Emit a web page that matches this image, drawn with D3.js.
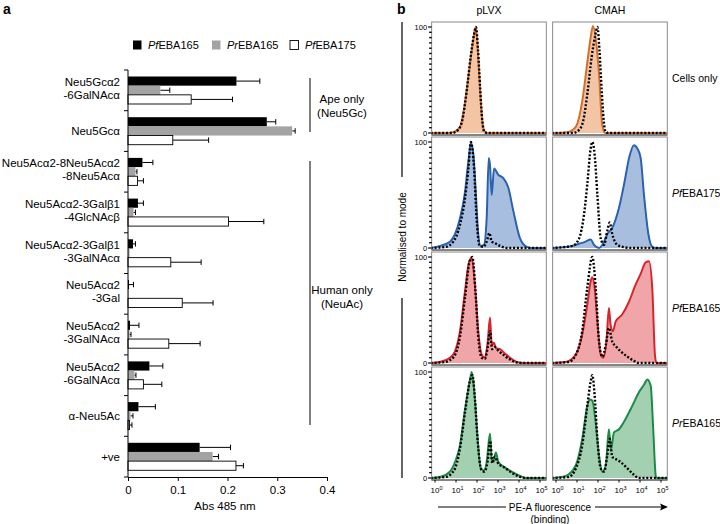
<!DOCTYPE html>
<html><head><meta charset="utf-8">
<script src="https://cdn.jsdelivr.net/npm/d3@7"></script>
<style>
body{margin:0;background:#fff;}
svg{display:block;font-family:"Liberation Sans",Arial,Helvetica,sans-serif;}
</style></head>
<body>
<svg id="c" width="720" height="524"></svg>
<script>
// ---------- Panel a data ----------
const categoryLines = [
  ["Neu5Gc\u03b12","-6GalNAc\u03b1"],
  ["Neu5Gc\u03b1"],
  ["Neu5Ac\u03b12-8Neu5Ac\u03b12","-8Neu5Ac\u03b1"],
  ["Neu5Ac\u03b12-3Gal\u03b21","-4GlcNAc\u03b2"],
  ["Neu5Ac\u03b12-3Gal\u03b21","-3GalNAc\u03b1"],
  ["Neu5Ac\u03b12","-3Gal"],
  ["Neu5Ac\u03b12","-3GalNAc\u03b1"],
  ["Neu5Ac\u03b12","-6GalNAc\u03b1"],
  ["\u03b1-Neu5Ac"],
  ["+ve"]
];
const seriesNames = ["PfEBA165","PrEBA165","PfEBA175"];
const valPfEBA165 = [0.218,0.279,0.029,0.020,0.010,0.002,0.004,0.043,0.021,0.144];
const errPfEBA165 = [0.047,0.018,0.021,0.011,0.005,0.009,0.018,0.027,0.034,0.062];
const valPrEBA165 = [0.065,0.330,0.015,0.011,0.003,0.001,0.003,0.013,0.005,0.170];
const errPrEBA165 = [0.019,0.006,0.003,0.004,0.000,0.000,0.003,0.003,0.005,0.012];
const valPfEBA175 = [0.127,0.090,0.019,0.202,0.086,0.109,0.082,0.031,0.003,0.217];
const errPfEBA175 = [0.083,0.072,0.012,0.071,0.061,0.062,0.063,0.037,0.005,0.015];
const xTicksA = [0,0.1,0.2,0.3,0.4];

// ---------- Panel b data: [log10 fluorescence, % of mode] ----------
const colTitles = ["pLVX","CMAH"];
const rowLabels = [["","Cells only"],["Pf","EBA175"],["Pf","EBA165"],["Pr","EBA165"]];
const cellsPLVX = [[-0.2,0],[0.5,0],[0.8,0.5],[1.0,2],[1.2,6],[1.4,25],[1.6,55],[1.8,85],[1.94,100],[2.05,75],[2.15,40],[2.25,12],[2.35,2],[2.5,0],[5.3,0]];
const cellsPLVXctrl = [[-0.2,0],[0.8,0],[1.1,3],[1.3,12],[1.5,38],[1.7,72],[1.85,92],[1.95,100],[2.05,78],[2.15,42],[2.25,12],[2.35,1],[2.5,0],[5.3,0]];
const cellsCMAH = [[-0.2,0],[0.1,0],[0.6,1],[0.95,6],[1.25,30],[1.5,68],[1.65,90],[1.76,101],[1.9,88],[2.05,55],[2.2,8],[2.35,0],[5.3,0]];
const cellsCMAHctrl = [[-0.2,0],[0.8,0],[1.1,3],[1.3,12],[1.5,38],[1.7,72],[1.87,92],[1.97,100],[2.07,78],[2.17,42],[2.27,12],[2.37,1],[2.5,0],[5.3,0]];
const pf175PLVX = [[-0.2,0],[0.24,2],[0.71,6],[0.95,13],[1.19,28],[1.43,53],[1.59,82],[1.71,99],[1.83,88],[1.95,50],[2.06,13],[2.17,2],[2.33,3],[2.46,28],[2.56,85],[2.62,78],[2.7,50],[2.81,75],[3.02,69],[3.25,66],[3.49,57],[3.73,35],[4.05,9],[4.37,1],[4.6,0],[5.3,0]];
const pf175PLVXctrl = [[-0.2,0],[0.5,1],[0.87,6],[1.19,22],[1.43,47],[1.59,75],[1.71,100],[1.86,75],[1.98,28],[2.11,3],[2.3,1],[2.46,6],[2.59,14],[2.7,6],[2.81,5],[3.1,2],[3.41,0],[5.3,0]];
const pf175CMAH = [[-0.2,0],[0.78,2],[1.1,4],[1.41,6],[1.65,8],[1.81,3],[2.05,0],[2.29,6],[2.44,13],[2.68,19],[3.0,38],[3.24,60],[3.48,85],[3.71,97],[3.87,94],[4.03,85],[4.19,50],[4.4,13],[4.59,1],[4.75,0],[5.3,0]];
const pf175CMAHctrl = [[-0.2,0],[0.78,2],[1.1,9],[1.33,31],[1.49,60],[1.65,94],[1.73,100],[1.84,88],[1.97,50],[2.13,9],[2.29,3],[2.44,16],[2.56,24],[2.68,13],[2.92,3],[3.33,0.5],[3.6,0],[5.3,0]];
const pf165PLVX = [[-0.2,0],[0.24,1],[0.71,5],[0.95,11],[1.19,30],[1.43,68],[1.63,96],[1.75,99],[1.9,74],[2.06,30],[2.22,8],[2.38,5],[2.51,20],[2.62,43],[2.7,17],[2.81,19],[2.9,14],[3.1,13],[3.33,9],[3.57,5],[3.89,1],[4.2,0],[5.3,0]];
const pf165PLVXctrl = [[-0.2,0],[0.5,1],[0.9,6],[1.19,25],[1.43,62],[1.63,94],[1.78,100],[1.92,70],[2.06,25],[2.22,5],[2.38,4],[2.51,15],[2.62,30],[2.72,13],[2.85,15],[3.0,12],[3.3,7],[3.6,3],[3.9,0.5],[4.2,0],[5.3,0]];
const pf165CMAH = [[-0.2,0],[0.46,1],[0.94,8],[1.25,27],[1.49,55],[1.65,77],[1.73,81],[1.84,71],[1.97,39],[2.13,8],[2.24,5],[2.4,20],[2.52,52],[2.6,36],[2.71,30],[2.84,39],[3.16,46],[3.48,58],[3.79,74],[4.03,84],[4.27,95],[4.43,96],[4.59,68],[4.71,8],[4.78,0],[5.3,0]];
const pf165CMAHctrl = [[-0.2,0],[0.6,1],[0.95,8],[1.25,30],[1.49,71],[1.73,100],[1.89,71],[2.05,20],[2.21,6],[2.37,17],[2.52,33],[2.68,20],[2.84,16],[3.08,11],[3.4,6],[3.71,2],[3.95,0],[5.3,0]];
const pr165PLVX = [[-0.2,0],[0.24,1],[0.71,6],[0.95,15],[1.19,31],[1.43,65],[1.67,93],[1.75,100],[1.86,84],[2.02,40],[2.17,10],[2.33,7],[2.46,15],[2.62,42],[2.71,15],[2.81,18],[2.9,24],[3.02,15],[3.33,10],[3.65,6],[4.05,2],[4.35,0],[5.3,0]];
const pr165PLVXctrl = [[-0.2,0],[0.5,1],[0.9,7],[1.19,28],[1.43,62],[1.67,92],[1.78,97],[1.9,75],[2.04,33],[2.2,8],[2.35,6],[2.5,15],[2.63,35],[2.73,14],[2.85,20],[3.0,14],[3.3,10],[3.65,5],[4.0,1.5],[4.35,0],[5.3,0]];
const pr165CMAH = [[-0.2,0],[0.46,2],[0.94,12],[1.25,37],[1.49,68],[1.6,74],[1.73,73],[1.89,52],[2.05,21],[2.21,6],[2.37,12],[2.52,46],[2.62,27],[2.76,43],[3.0,46],[3.32,56],[3.63,68],[3.95,81],[4.19,88],[4.35,93],[4.51,87],[4.63,46],[4.75,2],[4.8,0],[5.3,0]];
const pr165CMAHctrl = [[-0.2,0],[0.6,1],[0.94,9],[1.25,31],[1.49,68],[1.65,91],[1.73,97],[1.84,78],[1.97,37],[2.13,9],[2.29,6],[2.44,21],[2.56,37],[2.68,20],[2.84,18],[3.08,15],[3.4,9],[3.71,3],[3.95,0],[5.3,0]];
const xTickExp = [0,1,2,3,4,5];

// ---------- styles ----------
const FONT = "\"Liberation Sans\",Arial,Helvetica,sans-serif";
const barFill = ["#000000","#a3a3a3","#ffffff"];
const rowStroke = ["#d2702c","#2b62ae","#d6262d","#1e8a48"];
const rowFill = ["#f4c5a5","#a7bedf","#f0a5a8","#a3d0b1"];

const svg = d3.select("#c");

// ================= Panel a =================
svg.append("text").attr("x",3).attr("y",14).attr("font-size",14).attr("font-weight","bold").text("a");

const xA = d3.scaleLinear().domain([0,0.4]).range([128,327]);
const yA = d3.scaleBand().domain(d3.range(categoryLines.length)).range([70,477]);
const yS = d3.scaleBand().domain(seriesNames).range([6.5,34]);
const vals = [valPfEBA165,valPrEBA165,valPfEBA175];
const errs = [errPfEBA165,errPrEBA165,errPfEBA175];

const gA = svg.append("g");
seriesNames.forEach((s,si)=>{
  categoryLines.forEach((c,ci)=>{
    const y0 = yA(ci)+yS(s), h = yS.bandwidth();
    const v = vals[si][ci], e = errs[si][ci];
    if (e>0){
      const ym = y0+h/2;
      gA.append("line").attr("x1",xA(v)).attr("x2",xA(v+e)).attr("y1",ym).attr("y2",ym).attr("stroke","#000").attr("stroke-width",1);
      gA.append("line").attr("x1",xA(v+e)).attr("x2",xA(v+e)).attr("y1",ym-2.7).attr("y2",ym+2.7).attr("stroke","#000").attr("stroke-width",1);
    }
    gA.append("rect").attr("x",xA(0)).attr("y",y0).attr("width",Math.max(0.5,xA(v)-xA(0))).attr("height",h)
      .attr("fill",barFill[si]).attr("stroke",si===2?"#000":"none").attr("stroke-width",0.9);
  });
});
// x axis
const axA = gA.append("g").attr("transform","translate(0,477)").call(d3.axisBottom(xA).tickValues(xTicksA).tickFormat(d=>d===0?"0":d3.format(".1f")(d)).tickSize(4).tickSizeOuter(0));
axA.select(".domain").attr("stroke","#000");
axA.selectAll("text").attr("font-size",11.5).attr("font-family",FONT).attr("dy","0.9em");
gA.append("text").attr("x",225).attr("y",510).attr("text-anchor","middle").attr("font-size",11.5).text("Abs 485 nm");
// y axis
gA.append("line").attr("x1",128).attr("x2",128).attr("y1",70).attr("y2",477).attr("stroke","#000");
d3.range(categoryLines.length+1).forEach(i=>{
  const y = i<categoryLines.length ? yA(i) : 477;
  gA.append("line").attr("x1",124).attr("x2",128).attr("y1",y).attr("y2",y).attr("stroke","#000");
});
categoryLines.forEach((lines,ci)=>{
  const cy = yA(ci)+yA.bandwidth()/2;
  const n = lines.length;
  lines.forEach((t,li)=>{
    const yy = n===1 ? cy : cy-2 + (li-0.5)*13;
    gA.append("text").attr("x",120).attr("y",yy).attr("dy","0.35em").attr("text-anchor","end").attr("font-size",11.5).text(t);
  });
});
// legend
const legX = [133,212,290];
seriesNames.forEach((s,i)=>{
  gA.append("rect").attr("x",legX[i]).attr("y",40.5).attr("width",8.5).attr("height",9).attr("fill",barFill[i]).attr("stroke",i===2?"#000":"none").attr("stroke-width",0.9);
  const t = gA.append("text").attr("x",legX[i]+15).attr("y",45).attr("dy","0.35em").attr("font-size",11);
  t.append("tspan").attr("font-style","italic").text(s.slice(0,2));
  t.append("tspan").text(s.slice(2));
});
// brackets
gA.append("line").attr("x1",310).attr("x2",310).attr("y1",78).attr("y2",132).attr("stroke","#000");
gA.append("line").attr("x1",310).attr("x2",310).attr("y1",161).attr("y2",425).attr("stroke","#000");
[["Ape only",99],["(Neu5Gc)",113],["Human only",290],["(NeuAc)",304]].forEach(d=>{
  gA.append("text").attr("x",342).attr("y",d[1]).attr("dy","0.35em").attr("text-anchor","middle").attr("font-size",11.5).text(d[0]);
});

// ================= Panel b =================
svg.append("text").attr("x",397).attr("y",14).attr("font-size",14).attr("font-weight","bold").text("b");
const colZero = [435,556];
const rowTop = [22,137,252,367];
const PH = 113;
const panelData = [
  [[cellsPLVX,cellsPLVXctrl],[cellsCMAH,cellsCMAHctrl]],
  [[pf175PLVX,pf175PLVXctrl],[pf175CMAH,pf175CMAHctrl]],
  [[pf165PLVX,pf165PLVXctrl],[pf165CMAH,pf165CMAHctrl]],
  [[pr165PLVX,pr165PLVXctrl],[pr165CMAH,pr165CMAHctrl]]
];
const defs = svg.append("defs");
panelData.forEach((row,ri)=>{
  row.forEach((pair,ci)=>{
    const x = d3.scaleLinear().domain([0,5]).range([colZero[ci],colZero[ci]+105]);
    const y = d3.scaleLinear().domain([0,100]).range([rowTop[ri]+111,rowTop[ri]+5]);
    const left = x(-0.16), right = x(5.3), top = rowTop[ri], bot = rowTop[ri]+PH;
    const id = "clip"+ri+"_"+ci;
    defs.append("clipPath").attr("id",id).append("rect").attr("x",left).attr("y",top).attr("width",right-left).attr("height",PH);
    const g = svg.append("g");
    const gc = g.append("g").attr("clip-path","url(#"+id+")");
    const area = d3.area().x(d=>x(d[0])).y0(y(0)).y1(d=>y(d[1])).curve(d3.curveMonotoneX);
    const line = d3.line().x(d=>x(d[0])).y(d=>y(d[1])).curve(d3.curveMonotoneX);
    gc.append("path").attr("d",area(pair[0])).attr("fill",rowFill[ri]);
    gc.append("path").attr("d",line(pair[0])).attr("fill","none").attr("stroke",rowStroke[ri]).attr("stroke-width",2).attr("stroke-linejoin","round");
    gc.append("path").attr("d",line(pair[1])).attr("fill","none").attr("stroke","#000").attr("stroke-width",2.4).attr("stroke-dasharray","2,1.8");
    g.append("rect").attr("x",left).attr("y",top).attr("width",right-left).attr("height",PH).attr("fill","none").attr("stroke","#8a8a8a").attr("stroke-width",1);
    g.append("line").attr("x1",left).attr("x2",right).attr("y1",bot).attr("y2",bot).attr("stroke","#444").attr("stroke-width",1);
    if (ci===0){
      d3.range(0,101,5).forEach(v=>{
        const major = (v===0||v===100);
        g.append("line").attr("x1",left-(major?3.5:2.5)).attr("x2",left).attr("y1",y(v)).attr("y2",y(v)).attr("stroke","#000").attr("stroke-width",major?1.2:1.4);
      });
      [0,100].forEach(v=>{
        g.append("text").attr("x",left-4.5).attr("y",y(v)).attr("dy","0.35em").attr("text-anchor","end").attr("font-size",7.5).text(v);
      });
    }
    if (ri===3){
      xTickExp.forEach(k=>{
        g.append("line").attr("x1",x(k)).attr("x2",x(k)).attr("y1",bot).attr("y2",bot+2.5).attr("stroke","#000");
        const t = g.append("text").attr("x",x(k)+1.5).attr("y",493).attr("text-anchor","middle").attr("font-size",8);
        t.append("tspan").text("10");
        t.append("tspan").attr("font-size",5.5).attr("dy",-3.5).text(k);
      });
    }
    if (ri===0){
      svg.append("text").attr("x",(left+right)/2).attr("y",14).attr("text-anchor","middle").attr("font-size",10.5).text(colTitles[ci]);
    }
  });
  const t = svg.append("text").attr("x",672).attr("y",rowTop[ri]+56).attr("dy","0.35em").attr("font-size",10.5);
  if (rowLabels[ri][0]) t.append("tspan").attr("font-style","italic").text(rowLabels[ri][0]);
  t.append("tspan").text(rowLabels[ri][1]);
});
// y label and line
svg.append("line").attr("x1",402).attr("x2",402).attr("y1",22).attr("y2",177).attr("stroke","#000").attr("stroke-width",1.2);
svg.append("line").attr("x1",402).attr("x2",402).attr("y1",298).attr("y2",478).attr("stroke","#000").attr("stroke-width",1.2);
svg.append("text").attr("transform","translate(402,237) rotate(-90)").attr("dy","0.35em").attr("text-anchor","middle").attr("font-size",10).text("Normalised to mode");
// x label with arrow
svg.append("line").attr("x1",438).attr("x2",506).attr("y1",507).attr("y2",507).attr("stroke","#000");
svg.append("line").attr("x1",595).attr("x2",663).attr("y1",507).attr("y2",507).attr("stroke","#000");
svg.append("path").attr("d","M668,507 L660,503.5 L661.5,507 L660,510.5 Z").attr("fill","#000");
svg.append("text").attr("x",550).attr("y",507).attr("dy","0.35em").attr("text-anchor","middle").attr("font-size",10).text("PE-A fluorescence");
svg.append("text").attr("x",550).attr("y",519).attr("dy","0.35em").attr("text-anchor","middle").attr("font-size",10).text("(binding)");
</script>
</body></html>
